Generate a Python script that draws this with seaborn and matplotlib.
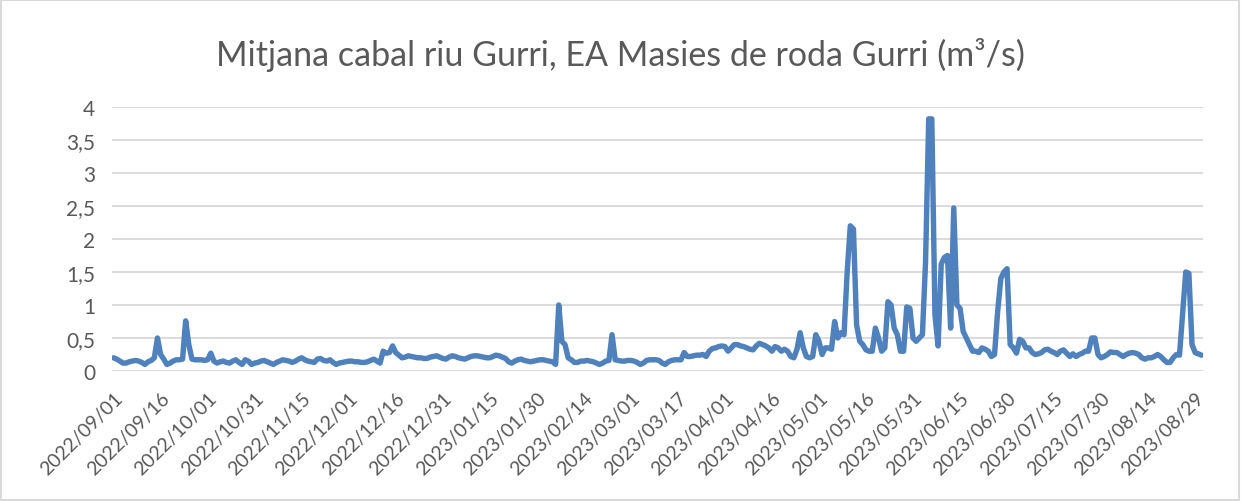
import numpy as np
import pandas as pd
import seaborn as sns
import matplotlib

matplotlib.use("Agg")
import matplotlib.pyplot as plt
from matplotlib.patches import Rectangle

# daily mean flow (m3/s), one value per category
cabal = [
    0.20, 0.18, 0.15, 0.12, 0.12, 0.14, 0.15, 0.16, 0.15, 0.13,
    0.10, 0.14, 0.16, 0.20, 0.50, 0.25, 0.18, 0.10, 0.12, 0.15,
    0.17, 0.17, 0.18, 0.76, 0.40, 0.18, 0.17, 0.17, 0.17, 0.16,
    0.17, 0.27, 0.15, 0.12, 0.14, 0.15, 0.13, 0.12, 0.15, 0.17,
    0.13, 0.10, 0.17, 0.15, 0.10, 0.12, 0.13, 0.15, 0.16, 0.14,
    0.12, 0.10, 0.13, 0.15, 0.17, 0.16, 0.15, 0.13, 0.15, 0.18,
    0.20, 0.17, 0.15, 0.14, 0.13, 0.18, 0.19, 0.16, 0.15, 0.17,
    0.13, 0.10, 0.12, 0.13, 0.14, 0.15, 0.15, 0.14, 0.14, 0.13,
    0.13, 0.14, 0.16, 0.18, 0.15, 0.12, 0.30, 0.27, 0.28, 0.38,
    0.28, 0.24, 0.20, 0.21, 0.23, 0.22, 0.21, 0.20, 0.20, 0.19,
    0.19, 0.21, 0.22, 0.23, 0.21, 0.19, 0.18, 0.21, 0.23, 0.22,
    0.20, 0.19, 0.18, 0.20, 0.22, 0.23, 0.23, 0.22, 0.21, 0.20,
    0.20, 0.22, 0.24, 0.23, 0.21, 0.19, 0.14, 0.12, 0.15, 0.17,
    0.18, 0.16, 0.15, 0.14, 0.15, 0.16, 0.17, 0.17, 0.16, 0.15,
    0.14, 0.10, 1.00, 0.45, 0.40, 0.20, 0.17, 0.13, 0.13, 0.15,
    0.15, 0.16, 0.15, 0.14, 0.12, 0.10, 0.12, 0.15, 0.16, 0.55,
    0.17, 0.16, 0.15, 0.15, 0.16, 0.16, 0.15, 0.13, 0.10, 0.12,
    0.16, 0.17, 0.17, 0.17, 0.16, 0.12, 0.10, 0.14, 0.16, 0.17,
    0.17, 0.17, 0.28, 0.22, 0.22, 0.23, 0.24, 0.24, 0.25, 0.22,
    0.30, 0.34, 0.35, 0.37, 0.38, 0.37, 0.30, 0.35, 0.40, 0.40,
    0.38, 0.37, 0.35, 0.33, 0.32, 0.38, 0.42, 0.40, 0.38, 0.35,
    0.30, 0.37, 0.35, 0.30, 0.33, 0.30, 0.22, 0.20, 0.33, 0.58,
    0.35, 0.22, 0.20, 0.22, 0.55, 0.45, 0.25, 0.35, 0.35, 0.33,
    0.75, 0.50, 0.58, 0.55, 1.50, 2.20, 2.15, 0.70, 0.45, 0.40,
    0.32, 0.30, 0.30, 0.65, 0.50, 0.30, 0.35, 1.05, 1.00, 0.65,
    0.55, 0.30, 0.30, 0.97, 0.95, 0.50, 0.45, 0.50, 0.55, 1.65,
    3.82, 3.82, 0.85, 0.38, 1.62, 1.72, 1.75, 0.65, 2.47, 1.00,
    0.95, 0.60, 0.50, 0.40, 0.30, 0.30, 0.28, 0.35, 0.33, 0.30,
    0.22, 0.25, 0.90, 1.40, 1.50, 1.55, 0.40, 0.35, 0.27, 0.48,
    0.45, 0.35, 0.35, 0.28, 0.25, 0.26, 0.28, 0.32, 0.33, 0.30,
    0.28, 0.25, 0.30, 0.32, 0.27, 0.22, 0.26, 0.22, 0.25, 0.27,
    0.30, 0.30, 0.50, 0.50, 0.25, 0.20, 0.22, 0.25, 0.29, 0.28,
    0.28, 0.25, 0.22, 0.25, 0.27, 0.28, 0.27, 0.25, 0.20, 0.18,
    0.20, 0.20, 0.22, 0.25, 0.22, 0.17, 0.13, 0.13, 0.20, 0.25,
    0.24, 0.88, 1.50, 1.48, 0.40, 0.28, 0.26, 0.24,
]

# category labels shown every 15 points
etiquetes = [
    "2022/09/01", "2022/09/16", "2022/10/01", "2022/10/31", "2022/11/15",
    "2022/12/01", "2022/12/16", "2022/12/31", "2023/01/15", "2023/01/30",
    "2023/02/14", "2023/03/01", "2023/03/17", "2023/04/01", "2023/04/16",
    "2023/05/01", "2023/05/16", "2023/05/31", "2023/06/15", "2023/06/30",
    "2023/07/15", "2023/07/30", "2023/08/14", "2023/08/29",
]
y_ticks = [0, 0.5, 1, 1.5, 2, 2.5, 3, 3.5, 4]
titol = "Mitjana cabal riu Gurri, EA Masies de roda Gurri (m³/s)"

df = pd.DataFrame({"idx": np.arange(len(cabal)), "cabal": cabal})

sns.set_style("white")
plt.rcParams["font.family"] = ["Lato", "DejaVu Sans"]
gris = "#595959"

fig = plt.figure(figsize=(12.41, 5.02), dpi=100)
ax = fig.add_axes([112 / 1241, 1 - 372 / 502, (1203 - 112) / 1241, (372 - 108) / 502])

# gridlines first so the line sits on top
for v in y_ticks:
    ax.axhline(v, color="#d9d9d9", lw=1.3, zorder=0)

sns.lineplot(data=df, x="idx", y="cabal", ax=ax, color="#4f81bd", lw=3.9,
             solid_capstyle="round", solid_joinstyle="round", zorder=3)

ax.set_xlim(-0.5, len(cabal) - 0.5)
ax.set_ylim(0, 4)
ax.set_yticks(y_ticks)
ax.set_yticklabels([f"{v:g}".replace(".", ",") for v in y_ticks],
                   fontsize=15, color=gris)
ax.set_xticks(range(0, 15 * len(etiquetes), 15))
ax.set_xticklabels(etiquetes, rotation=45, ha="right", rotation_mode="anchor",
                   fontsize=14, color=gris)
ax.tick_params(axis="x", length=0, pad=13)
ax.tick_params(axis="y", length=0, pad=12)
ax.set_xlabel("")
ax.set_ylabel("")
for s in ax.spines.values():
    s.set_visible(False)

fig.text(0.5, 1 - 55 / 502, titol, ha="center", va="center",
         fontsize=24.5, color=gris)

# chart border like the spreadsheet frame
fig.patches.append(Rectangle((0.001, 0.001), 0.997, 0.997, transform=fig.transFigure,
                             fill=False, edgecolor="#d9d9d9", lw=1.5))

fig.savefig("out.png", dpi=100)
